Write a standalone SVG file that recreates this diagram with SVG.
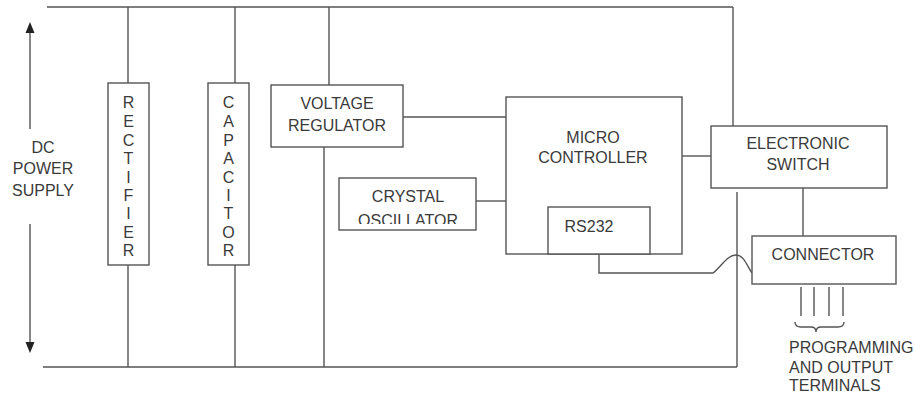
<svg xmlns="http://www.w3.org/2000/svg" width="914" height="395" viewBox="0 0 914 395">
<style>
.box{fill:#fff;stroke:#555;stroke-width:1.4}
.ln{fill:none;stroke:#555;stroke-width:1.4}
.t{font-family:"Liberation Sans",Arial,sans-serif;font-size:16px;fill:#3a3a3a;text-anchor:middle}
.tl{font-family:"Liberation Sans",Arial,sans-serif;font-size:16px;fill:#3a3a3a}
.head{fill:#222}
</style>
<defs>
<clipPath id="oscClip"><rect x="340" y="178" width="135" height="46"/></clipPath>
</defs>
<rect width="914" height="395" fill="#fff"/>

<g id="connectors">
  <path class="ln" d="M47,7 H733"/>
  <path class="ln" d="M43,367 H737"/>
  <path class="ln" d="M128,7 V83 M128,265 V367"/>
  <path class="ln" d="M235,7 V83 M235,265 V367"/>
  <path class="ln" d="M329,7 V85 M324,147 V367"/>
  <path class="ln" d="M403,117 H506"/>
  <path class="ln" d="M476,201 H506"/>
  <path class="ln" d="M682,156 H711"/>
  <path class="ln" d="M733,7 V126 M737,192 V367"/>
  <path class="ln" d="M803,188 V236"/>
  <path class="ln" d="M599,254 V273 H713 C722,266 727,255 736,255 C744,255 747,266 752,273"/>
  <path class="ln" d="M801,287 V316 M814,287 V316 M829,287 V316 M843,287 V316"/>
  <path class="ln" stroke-width="1.2" d="M795,322 Q795,327 801,327 H811 Q816,327 816,332 Q816,327 821,327 H838 Q844,327 844,322"/>
</g>

<g id="dc-power-supply">
  <path class="ln" stroke="#333" d="M30,33 V129 M30,224 V342"/>
  <polygon class="head" points="30,22 25.5,33 34.5,33"/>
  <polygon class="head" points="30,353 25.5,342 34.5,342"/>
  <text class="t" x="43" y="153">DC</text>
  <text class="t" x="43" y="174">POWER</text>
  <text class="t" x="43" y="196">SUPPLY</text>
</g>

<g id="rectifier">
  <rect class="box" x="108" y="83" width="41" height="182"/>
  <text class="t" x="128.5" y="108">R</text>
  <text class="t" x="128.5" y="127">E</text>
  <text class="t" x="128.5" y="146">C</text>
  <text class="t" x="128.5" y="164">T</text>
  <text class="t" x="128.5" y="183">I</text>
  <text class="t" x="128.5" y="201">F</text>
  <text class="t" x="128.5" y="219">I</text>
  <text class="t" x="128.5" y="238">E</text>
  <text class="t" x="128.5" y="256">R</text>
</g>

<g id="capacitor">
  <rect class="box" x="208" y="83" width="41" height="182"/>
  <text class="t" x="228.5" y="108">C</text>
  <text class="t" x="228.5" y="127">A</text>
  <text class="t" x="228.5" y="146">P</text>
  <text class="t" x="228.5" y="164">A</text>
  <text class="t" x="228.5" y="183">C</text>
  <text class="t" x="228.5" y="201">I</text>
  <text class="t" x="228.5" y="219">T</text>
  <text class="t" x="228.5" y="238">O</text>
  <text class="t" x="228.5" y="256">R</text>
</g>

<g id="voltage-regulator">
  <rect class="box" x="271" y="85" width="132" height="62"/>
  <text class="t" x="337" y="109">VOLTAGE</text>
  <text class="t" x="337" y="131">REGULATOR</text>
</g>

<g id="crystal-oscillator">
  <rect class="box" x="339" y="178" width="137" height="52"/>
  <text class="t" x="408" y="202">CRYSTAL</text>
  <text class="t" x="408" y="226" clip-path="url(#oscClip)">OSCILLATOR</text>
</g>

<g id="microcontroller">
  <rect class="box" x="506" y="97" width="176" height="157"/>
  <text class="t" x="593" y="143">MICRO</text>
  <text class="t" x="593" y="163">CONTROLLER</text>
</g>

<g id="rs232">
  <rect class="box" x="548" y="207" width="102" height="47"/>
  <text class="t" x="589" y="232">RS232</text>
</g>

<g id="electronic-switch">
  <rect class="box" x="711" y="126" width="176" height="62"/>
  <text class="t" x="798" y="149">ELECTRONIC</text>
  <text class="t" x="798" y="170">SWITCH</text>
</g>

<g id="connector">
  <rect class="box" x="752" y="236" width="144" height="48"/>
  <text class="t" x="823" y="260">CONNECTOR</text>
</g>

<g id="terminals-label">
  <text class="tl" x="789" y="353">PROGRAMMING</text>
  <text class="tl" x="789" y="373">AND OUTPUT</text>
  <text class="tl" x="789" y="391">TERMINALS</text>
</g>
</svg>
